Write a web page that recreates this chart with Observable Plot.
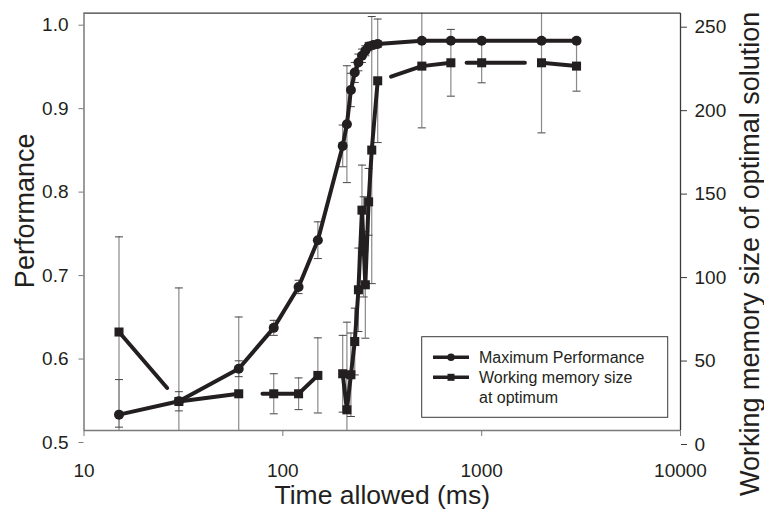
<!DOCTYPE html>
<html>
<head>
<meta charset="utf-8">
<script src="https://cdn.jsdelivr.net/npm/d3@7"></script>
<script src="https://cdn.jsdelivr.net/npm/@observablehq/plot@0.6"></script>
<style>
  html, body { margin: 0; padding: 0; background: #fff; }
  #chart { width: 764px; height: 514px; }
</style>
</head>
<body>
<div id="chart"></div>
<script>
// ---- data ----
const xTicks = [10, 100, 1000, 10000];
const perfTicks = [0.5, 0.6, 0.7, 0.8, 0.9, 1.0];
const wmTicks = [0, 50, 100, 150, 200, 250];

// Maximum performance (left axis)
const perfTime  = [15, 30, 60, 90, 120, 150, 200, 210, 220, 230, 240, 250, 260, 270, 285, 300, 500, 700, 1000, 2000, 3000];
const perfValue = [0.519, 0.535, 0.574, 0.623, 0.672, 0.728, 0.841, 0.867, 0.908, 0.929, 0.941, 0.949, 0.955, 0.960, 0.962, 0.963, 0.967, 0.967, 0.967, 0.967, 0.967];
const perfError = [0.042, 0.0115, 0.0095, 0.009, 0.008, 0.022, 0.025, 0.07, 0.02, 0.012, 0.01, 0.008, 0.006, 0.005, 0.004, 0.004, 0.003, 0.003, 0.003, 0.003, 0.003];

// Working memory size at optimum (right axis)
const wmTime  = [15, 30, 60, 90, 120, 150, 200, 210, 220, 230, 240, 250, 255, 260, 270, 280, 300, 500, 700, 1000, 2000, 3000];
const wmValue = [59, 17.4, 22, 22, 22, 33, 34, 12.4, 33.4, 53.3, 84.3, 132, 110, 87.3, 137, 168, 209.5, 218.3, 220.3, 220.3, 220.3, 218.3];
const wmError = [57, 68, 46, 12, 9.5, 22.5, 23, 52.5, 25, 20, 25, 27, 30, 32, 20, 80, 37, 37, 20, 12, 42, 15];

// visible (broken) pieces of the working-memory line
const wmLineTime  = [15, 26.2,  30, 60,  79, 90, 120, 150,  200, 210, 220, 230, 240, 250, 255, 260, 270, 280, 300,  350, 500, 700,  840, 1000, 1650,  2000, 3000];
const wmLineValue = [59, 25.5,  17.4, 22,  22, 22, 22, 33,  34, 12.4, 33.4, 53.3, 84.3, 132, 110, 87.3, 137, 168, 209.5,  212, 218.3, 220.3,  220.3, 220.3, 220.3,  220.3, 218.3];
const wmLinePiece = [1, 1,  2, 2,  3, 3, 3, 3,  4, 4, 4, 4, 4, 4, 4, 4, 4, 4, 4,  5, 5, 5,  6, 6, 6,  7, 7];

// ---- build tables ----
const wmMax = 250;
const toPerf = (w) => 0.5 + (w / wmMax) * 0.5;   // map right-axis values onto the left scale
const fromPerf = (p) => (p - 0.5) / 0.5 * wmMax;

const perf = perfTime.map((t, i) => ({t, v: perfValue[i], lo: perfValue[i] - perfError[i], hi: perfValue[i] + perfError[i]}));
const wm = wmTime.map((t, i) => ({t, v: toPerf(wmValue[i]), lo: toPerf(wmValue[i] - wmError[i]), hi: toPerf(wmValue[i] + wmError[i])}));
const wmLine = wmLineTime.map((t, i) => ({t, v: toPerf(wmLineValue[i]), g: wmLinePiece[i]}));

const ink = "#231f20";
const axisGray = "#7a7a7a";
const errGray = "#8a8a8a";
const capSymbol = { draw(ctx, size) { const r = Math.sqrt(size / Math.PI); ctx.moveTo(-r, 0); ctx.lineTo(r, 0); } };

const caps = (rows) => rows.flatMap(d => [{t: d.t, y: d.lo}, {t: d.t, y: d.hi}]);

const chart = Plot.plot({
  width: 764,
  height: 514,
  marginLeft: 83.5,
  marginRight: 84,
  marginTop: 12.7,
  marginBottom: 84,
  style: { fontFamily: "'Liberation Sans', Arial, sans-serif", color: ink, background: "#fff" },
  x: { type: "log", domain: [10, 10000] },
  y: { domain: [0.5, 1.0] },
  marks: [
    // error bars
    Plot.ruleX(wm, {x: "t", y1: "lo", y2: "hi", stroke: errGray, strokeWidth: 1.2, clip: true}),
    Plot.ruleX(perf, {x: "t", y1: "lo", y2: "hi", stroke: errGray, strokeWidth: 1.2, clip: true}),
    Plot.dot(caps(wm), {x: "t", y: "y", symbol: capSymbol, r: 4, stroke: "#444", strokeWidth: 1, clip: true}),
    Plot.dot(caps(perf), {x: "t", y: "y", symbol: capSymbol, r: 4, stroke: "#444", strokeWidth: 1, clip: true}),
    // frame lines
    Plot.ruleY([1.0], {stroke: "#3a3a3a", strokeWidth: 1.3}),
    Plot.ruleX([10000], {stroke: "#3a3a3a", strokeWidth: 1.3}),
    Plot.ruleX([10], {stroke: axisGray, strokeWidth: 1.5}),
    Plot.ruleY([0.5], {stroke: axisGray, strokeWidth: 1.5}),
    // series
    Plot.line(wmLine, {x: "t", y: "v", z: "g", stroke: ink, strokeWidth: 4, strokeLinejoin: "round"}),
    Plot.line(perf, {x: "t", y: "v", stroke: ink, strokeWidth: 4, strokeLinejoin: "round"}),
    Plot.dot(wm, {x: "t", y: "v", symbol: "square", r: 5.1, fill: ink}),
    Plot.dot(perf, {x: "t", y: "v", symbol: "circle", r: 5, fill: ink}),
    // axes
    Plot.axisX({ticks: xTicks, tickFormat: d => String(d), tickSize: 6, tickPadding: 27, fontSize: 19, stroke: axisGray, label: null}),
    Plot.axisY({ticks: perfTicks, tickFormat: d3.format(".1f"), tickSize: 5, tickPadding: 10.5, dy: 12, fontSize: 19, stroke: axisGray, label: null}),
    Plot.axisY(wmTicks.map(toPerf), {anchor: "right", tickFormat: d => String(Math.round(fromPerf(d))), tickSize: 6, tickPadding: 8, dy: 14, fontSize: 19, stroke: "#3a3a3a", label: null}),
    // axis titles
    Plot.text(["Time allowed (ms)"], {frameAnchor: "bottom", textAnchor: "middle", lineAnchor: "middle", dy: 65.5, fontSize: 26.5, fill: ink}),
    Plot.text(["Performance"], {frameAnchor: "left", textAnchor: "middle", lineAnchor: "middle", rotate: -90, dx: -59, dy: -11, fontSize: 27, fill: ink}),
    Plot.text(["Working memory size of optimal solution"], {frameAnchor: "right", textAnchor: "middle", lineAnchor: "middle", rotate: -90, dx: 70, dy: 32, fontSize: 27, fill: ink})
  ]
});

// legend drawn inside the plotting area
const svg = d3.select(chart);
const lg = svg.append("g").attr("font-family", "'Liberation Sans', Arial, sans-serif").attr("text-anchor", "start");
lg.append("rect").attr("x", 421.7).attr("y", 336.7).attr("width", 246).attr("height", 80.6)
  .attr("fill", "#fff").attr("stroke", "#3a3a3a").attr("stroke-width", 1);
const legendItems = [
  {label: ["Maximum Performance"], symbol: "circle", y: 357.3},
  {label: ["Working memory size", "at optimum"], symbol: "square", y: 377.3}
];
legendItems.forEach(item => {
  lg.append("line").attr("x1", 433).attr("x2", 469).attr("y1", item.y).attr("y2", item.y)
    .attr("stroke", ink).attr("stroke-width", 3.5);
  if (item.symbol === "circle") {
    lg.append("circle").attr("cx", 451).attr("cy", item.y).attr("r", 3.8).attr("fill", ink);
  } else {
    lg.append("rect").attr("x", 447.5).attr("y", item.y - 3.5).attr("width", 7).attr("height", 7).attr("fill", ink);
  }
  item.label.forEach((line, k) => {
    lg.append("text").attr("x", 479).attr("y", item.y + 6 + k * 19.5)
      .attr("font-size", 16).attr("fill", ink).attr("text-anchor", "start").text(line);
  });
});

document.getElementById("chart").appendChild(chart);
</script>
</body>
</html>
